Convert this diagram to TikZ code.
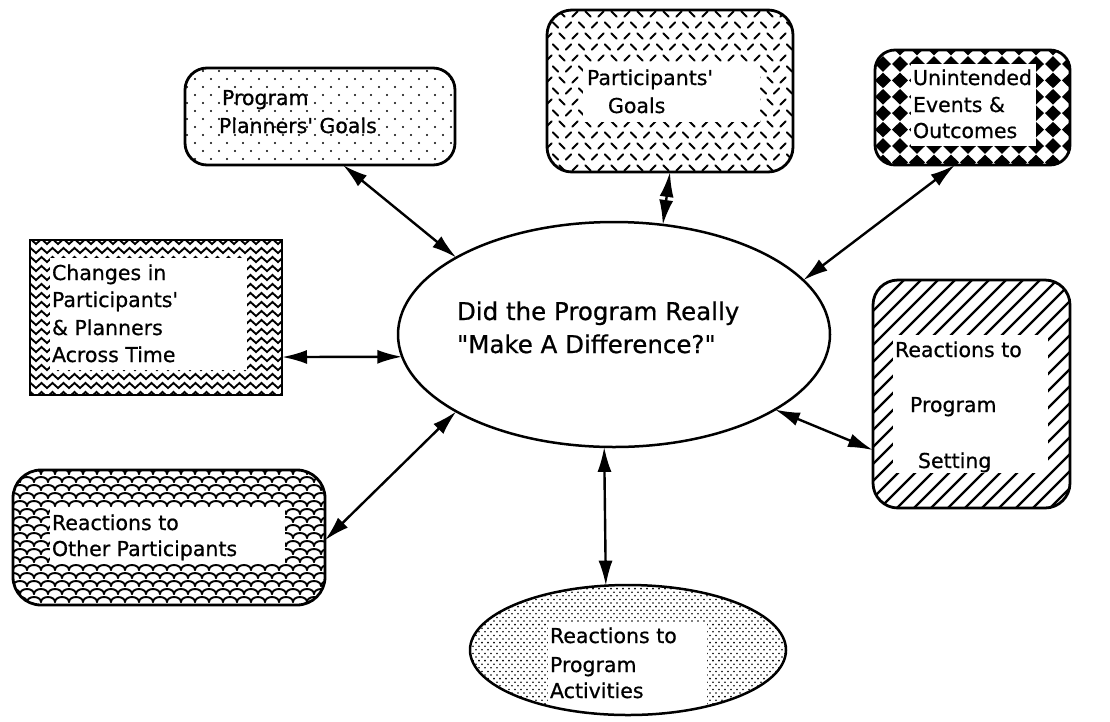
\documentclass[tikz,border=0pt]{standalone}
\usepackage{fontspec}
\setmainfont{DejaVu Sans}[BoldFont=DejaVu Sans, BoldFeatures={FakeBold=0.7}]
\usetikzlibrary{arrows.meta,calc,shapes.geometric}
\tikzset{
  lbl/.style={anchor=base west, inner sep=0pt, outer sep=0pt, font=\fontsize{20.5}{24}\selectfont\bfseries},
  bigl/.style={anchor=base west, inner sep=0pt, outer sep=0pt, font=\fontsize{24.5}{29}\selectfont\bfseries},
  boxframe/.style={draw, line width=2.8pt, inner sep=0pt, outer sep=0pt},
  ellframe/.style={ellipse, draw, line width=2.5pt, inner sep=0pt, outer sep=0pt},
  arr/.style={{Latex[length=25pt,width=14pt]}-{Latex[length=25pt,width=14pt]}, line width=2.4pt},
  pat/.style={line width=1.9pt, line cap=round},
}
\begin{document}
\begin{tikzpicture}[x=1pt,y=-1pt]
\useasboundingbox (0,0) rectangle (1110,721);
\fill[white] (0,0) rectangle (1110,721);

% ---------- patterns ----------
% Program Planners' Goals : sparse dots
\begin{scope}
\clip[rounded corners=22pt] (185,68) rectangle (455,165);
\foreach \j in {0,...,12} \foreach \i in {0,...,17}
  \fill ({187+16*\i+8*mod(\j,2)},{71+8*\j}) circle (1.2pt);
\end{scope}

% Participants' Goals : alternating dashes
\begin{scope}
\clip[rounded corners=25pt] (547,10) rectangle (793,172);
\foreach \j in {0,...,15} \foreach \i in {-1,...,19} {
  \pgfmathsetmacro\s{1-2*mod(\i+\j+20,2)}
  \draw[pat] ({549+13*\i+6.5*mod(\j,2)-2.6},{14+11*\j+2.6*\s}) -- ++(5.2,{-5.2*\s});
}
\fill[white] (583,62) rectangle (760,122);
\end{scope}

% Unintended : diamonds
\begin{scope}
\clip[rounded corners=20pt] (875,50) rectangle (1070,165);
\foreach \j in {-1,...,6} \foreach \i in {-1,...,12}
  \fill ({883+17*\i-8},{64+16.4*\j}) -- ++(8,-7.8) -- ++(8,7.8) -- ++(-8,7.8) -- cycle;
\fill[white] (911,64) rectangle (1036,146);
\end{scope}

% Changes : zigzag
\begin{scope}
\clip (30,240) rectangle (282,395);
\foreach \j in {0,...,17}
  \draw[pat] (25,{244+9*\j}) \foreach \k in {0,...,24} { -- ({30.5+11*\k},{239+9*\j}) -- ({36+11*\k},{244+9*\j}) };
\fill[white] (50,258) rectangle (247,370);
\end{scope}

% Other Participants : fish scales
\begin{scope}
\clip[rounded corners=28pt] (13,470) rectangle (325,605);
\foreach \j in {0,...,18} \foreach \i in {-1,...,24}
  \draw[pat] ({13+14*\i+7*mod(\j,2)},{474+8*\j}) arc[start angle=0,end angle=180,x radius=7pt,y radius=5pt];
\fill[white] (50,508) rectangle (285,563);
\end{scope}

% Program Setting : hatch
\begin{scope}
\clip[rounded corners=25pt] (873,280) rectangle (1070,508);
\foreach \k in {0,...,27}
  \draw[line width=2.2pt] ({873-235+17*\k},512) -- ++(240,-240);
\fill[white] (893,335) rectangle (1048,473);
\end{scope}

% Program Activities : dense dots
\begin{scope}
\clip (628,650) ellipse [x radius=158, y radius=65];
\foreach \j in {0,...,37} \foreach \i in {0,...,54}
  \fill ({470+6*\i+3*mod(\j,2)},{585+3.6*\j}) circle (0.9pt);
\fill[white] (548,622) rectangle (707,716);
\end{scope}

% ---------- frames ----------
\node[boxframe, rounded corners=22pt, minimum width=270pt, minimum height=97pt] (planners) at (320,116.5) {};
\node[boxframe, rounded corners=25pt, minimum width=246pt, minimum height=162pt] (partgoals) at (670,91) {};
\node[boxframe, rounded corners=20pt, minimum width=195pt, minimum height=115pt] (unint) at (972.5,107.5) {};
\node[boxframe, minimum width=252pt, minimum height=155pt] (changes) at (156,317.5) {};
\node[boxframe, rounded corners=28pt, minimum width=312pt, minimum height=135pt] (others) at (169,537.5) {};
\node[boxframe, rounded corners=25pt, minimum width=197pt, minimum height=228pt] (setting) at (971.5,394) {};
\node[ellframe, minimum width=316pt, minimum height=130pt] (activities) at (628,650) {};
\node[ellframe, fill=white, minimum width=432pt, minimum height=225pt] (hub) at (614,334.5) {};

% ---------- texts ----------
\node[bigl] (hubA) at (457,320) {Did the Program Really};
\node[bigl] (hubB) at (457,353) {\textquotedbl Make A Difference?\textquotedbl};

\node[lbl] (plA) at (222,105) {Program};
\node[lbl] (plB) at (219,133) {Planners\textquotesingle{} Goals};

\node[lbl] (pgA) at (587,85) {Participants\textquotesingle};
\node[lbl] (pgB) at (608,113) {Goals};

\node[lbl] (unA) at (913,85) {Unintended};
\node[lbl] (unB) at (913,112) {Events \&};
\node[lbl] (unC) at (913,138) {Outcomes};

\node[lbl] (chA) at (52,280) {Changes in};
\node[lbl] (chB) at (52,307) {Participants\textquotesingle};
\node[lbl] (chC) at (52,335) {\& Planners};
\node[lbl] (chD) at (52,362) {Across Time};

\node[lbl] (otA) at (52,530) {Reactions to};
\node[lbl] (otB) at (52,556) {Other Participants};

\node[lbl] (stA) at (895,357) {Reactions to};
\node[lbl] (stB) at (910,412) {Program};
\node[lbl] (stC) at (918,468) {Setting};

\node[lbl] (acA) at (550,643) {Reactions to};
\node[lbl] (acB) at (550,672) {Program};
\node[lbl] (acC) at (550,698) {Activities};

% ---------- connectors ----------
\draw[arr] ($(planners.south west)!0.585!(planners.south east)$) -- (hub.154.7);
\draw[arr] ($(partgoals.south west)!0.5!(partgoals.south east)$) -- (hub.66.6);
\draw[arr] ($(unint.south west)!0.41!(unint.south east)$) -- (hub.16.9);
\draw[arr] ($(changes.north east)!0.755!(changes.south east)$) -- (hub.186.1);
\draw[arr] ($(others.north east)!0.52!(others.south east)$) -- (hub.206.4);
\draw[arr] (hub.335) -- ($(setting.north west)!0.746!(setting.south west)$);
\draw[arr] (hub.265.4) -- (activities.109.5);
\end{tikzpicture}
\end{document}
